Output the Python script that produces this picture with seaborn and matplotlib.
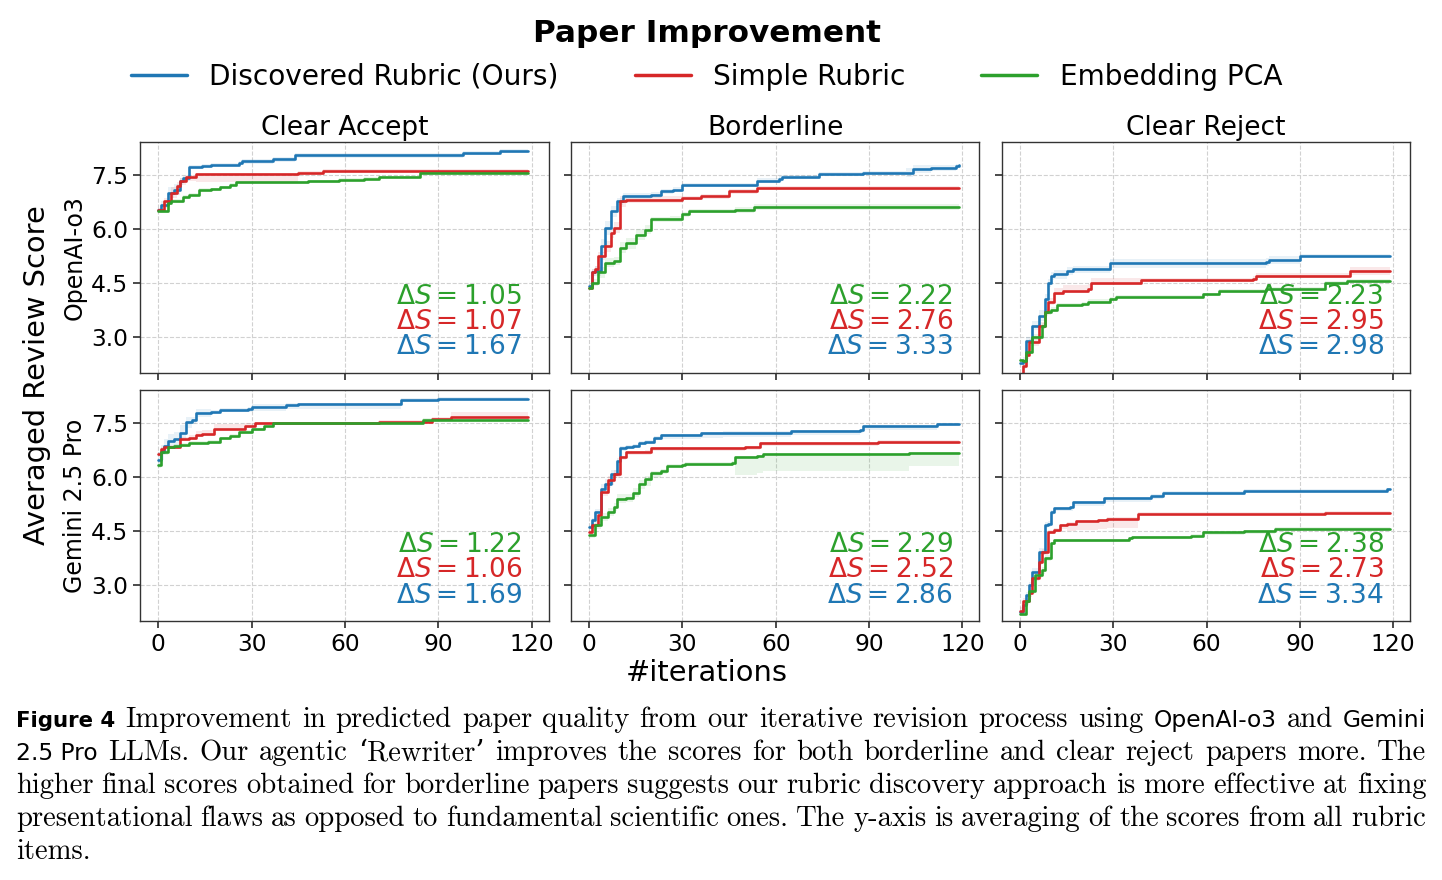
import matplotlib
matplotlib.use('Agg')
import matplotlib.pyplot as plt
import seaborn as sns
import pandas as pd

MODELS = ["OpenAI-o3", "Gemini 2.5 Pro"]
CATEGORIES = ["Clear Accept", "Borderline", "Clear Reject"]
METHODS = ["Discovered Rubric (Ours)", "Simple Rubric", "Embedding PCA"]
COLORS = ["#1f77b4", "#d62728", "#2ca02c"]
ITER_TICKS = [0, 30, 60, 90, 120]
SCORE_TICKS = [3.0, 4.5, 6.0, 7.5]

# change points of each curve: (iteration, score, band below, band above)
o3_accept_ours = [(0, 6.52, .05, .05), (1, 6.67, .1, .1), (3, 7.0, .15, .15), (5, 7.09, .15, .15),
                  (7, 7.32, .1, .1), (8, 7.4, .08, .08), (10, 7.71, .05, .05), (14, 7.75, .04, .04),
                  (17, 7.78, .04, .04), (26, 7.82, .05, .05), (27, 7.87, .06, .06), (37, 7.93, .07, .07),
                  (44, 8.05, .08, .06), (98, 8.1, .06, .06), (110, 8.16, .06, .06), (119, 8.16, .06, .06)]
o3_accept_simple = [(0, 6.52, .05, .05), (2, 6.76, .1, .1), (4, 7.0, .15, .15), (6, 7.18, .12, .12),
                    (7, 7.32, .1, .1), (9, 7.44, .1, .05), (12, 7.52, .22, .04), (45, 7.56, .05, .04),
                    (53, 7.61, .04, .04), (119, 7.61, .04, .04)]
o3_accept_pca = [(0, 6.49, .04, .04), (3, 6.72, .05, .05), (4, 6.78, .05, .05), (8, 6.88, .05, .05),
                 (10, 6.95, .05, .05), (13, 7.09, .04, .04), (17, 7.1, .04, .04), (20, 7.15, .04, .04),
                 (23, 7.22, .04, .04), (25, 7.29, .04, .04), (48, 7.32, .04, .04), (58, 7.36, .04, .04),
                 (66, 7.39, .04, .04), (71, 7.44, .04, .04), (84, 7.56, .04, .04), (119, 7.56, .04, .04)]

o3_border_ours = [(0, 4.42, .05, .05), (1, 4.79, .1, .1), (2, 4.83, .15, .15), (4, 5.52, .2, .2),
                  (5, 6.03, .2, .2), (7, 6.49, .15, .15), (9, 6.76, .1, .1), (11, 6.92, .08, .08),
                  (20, 6.95, .08, .08), (23, 7.04, .08, .08), (27, 7.09, .08, .08), (30, 7.22, .06, .06),
                  (54, 7.34, .08, .08), (61, 7.38, .08, .08), (62, 7.44, .06, .06), (74, 7.52, .05, .05),
                  (88, 7.55, .05, .05), (102, 7.56, .12, .12), (104, 7.66, .12, .12), (110, 7.68, .08, .08),
                  (118, 7.75, .05, .05), (119, 7.76, .05, .05)]
o3_border_simple = [(0, 4.37, .05, .05), (1, 4.79, .1, .1), (2, 4.88, .1, .1), (3, 5.25, .12, .12),
                    (5, 5.52, .15, .15), (7, 5.89, .15, .15), (8, 6.03, .15, .15), (10, 6.76, .15, .15),
                    (12, 6.81, .1, .1), (30, 6.86, .06, .06), (36, 6.9, .06, .06), (45, 7.04, .06, .06),
                    (54, 7.13, .06, .06), (119, 7.13, .06, .06)]
o3_border_pca = [(0, 4.37, .05, .05), (1, 4.5, .1, .1), (3, 4.79, .15, .15), (5, 5.06, .12, .12),
                 (8, 5.11, .12, .12), (10, 5.48, .15, .15), (12, 5.6, .15, .15), (15, 5.84, .15, .15),
                 (18, 5.98, .12, .12), (20, 6.26, .08, .08), (26, 6.28, .08, .08), (30, 6.4, .06, .06),
                 (32, 6.49, .06, .06), (47, 6.53, .08, .08), (53, 6.61, .08, .08), (119, 6.6, .08, .08)]

o3_reject_ours = [(0, 2.28, .05, .05), (1, 2.34, .1, .1), (2, 2.89, .1, .1), (4, 3.31, .12, .12),
                  (6, 3.59, .15, .15), (8, 4.05, .15, .15), (9, 4.5, .12, .12), (10, 4.69, .12, .12),
                  (11, 4.74, .12, .12), (15, 4.83, .12, .12), (17, 4.88, .1, .1), (29, 5.04, .12, .12),
                  (79, 5.08, .12, .12), (80, 5.14, .12, .12), (90, 5.25, .04, .04), (119, 5.25, .04, .04)]
o3_reject_simple = [(0, 1.88, .1, .1), (1, 2.2, .1, .1), (2, 2.49, .1, .1), (3, 2.85, .1, .1),
                    (6, 3.31, .1, .1), (8, 3.68, .1, .1), (9, 3.96, .08, .12), (11, 4.22, .05, .15),
                    (14, 4.28, .05, .15), (22, 4.33, .05, .15), (23, 4.49, .05, .15), (39, 4.58, .05, .06),
                    (75, 4.62, .05, .06), (76, 4.69, .06, .08), (106, 4.83, .12, .12), (119, 4.83, .12, .12)]
o3_reject_pca = [(0, 2.35, .05, .05), (1, 2.32, .05, .05), (2, 2.58, .06, .06), (4, 3.0, .08, .08),
                 (7, 3.31, .08, .08), (8, 3.68, .06, .06), (10, 3.76, .06, .06), (12, 3.88, .06, .06),
                 (20, 3.91, .06, .06), (22, 3.98, .06, .06), (29, 4.05, .05, .05), (31, 4.12, .05, .05),
                 (59, 4.18, .05, .05), (64, 4.28, .05, .05), (79, 4.33, .05, .05), (98, 4.49, .05, .05),
                 (105, 4.56, .05, .05), (119, 4.56, .05, .05)]

gem_accept_ours = [(0, 6.49, .2, .2), (1, 6.69, .2, .2), (2, 6.87, .2, .2), (3, 7.01, .2, .2),
                   (5, 7.06, .2, .2), (7, 7.24, .2, .2), (9, 7.52, .15, .15), (11, 7.58, .1, .1),
                   (12, 7.78, .1, .1), (17, 7.81, .06, .06), (20, 7.87, .06, .06), (29, 7.9, .08, .06),
                   (30, 7.96, .12, .06), (41, 8.0, .12, .05), (45, 8.02, .12, .05), (78, 8.14, .05, .05),
                   (90, 8.18, .05, .05), (119, 8.18, .05, .05)]
gem_accept_simple = [(0, 6.64, .05, .05), (1, 6.78, .06, .06), (2, 6.83, .06, .06), (7, 7.06, .06, .06),
                     (10, 7.1, .06, .06), (12, 7.17, .06, .1), (14, 7.2, .05, .12), (18, 7.35, .05, .12),
                     (28, 7.41, .05, .1), (31, 7.5, .04, .04), (71, 7.54, .04, .04), (88, 7.61, .04, .06),
                     (94, 7.68, .06, .12), (119, 7.68, .06, .12)]
gem_accept_pca = [(0, 6.34, .08, .08), (1, 6.69, .06, .06), (3, 6.83, .05, .05), (5, 6.87, .05, .05),
                  (7, 6.89, .05, .05), (10, 6.95, .05, .05), (16, 6.97, .05, .05), (20, 7.08, .05, .05),
                  (23, 7.15, .05, .05), (26, 7.26, .05, .05), (30, 7.33, .04, .04), (34, 7.43, .04, .04),
                  (37, 7.5, .04, .04), (85, 7.59, .04, .04), (98, 7.6, .05, .05), (119, 7.6, .05, .05)]

gem_border_ours = [(0, 4.62, .05, .05), (1, 4.8, .08, .08), (2, 5.03, .1, .1), (4, 5.68, .12, .12),
                   (5, 5.82, .12, .12), (7, 6.09, .1, .1), (9, 6.46, .08, .08), (10, 6.8, .06, .06),
                   (12, 6.83, .06, .06), (14, 6.87, .06, .06), (16, 6.95, .05, .05), (18, 6.97, .05, .05),
                   (21, 7.1, .08, .04), (23, 7.18, .12, .03), (36, 7.22, .12, .03), (43, 7.24, .12, .03),
                   (65, 7.27, .1, .03), (87, 7.32, .1, .03), (88, 7.43, .12, .03), (112, 7.47, .05, .03),
                   (119, 7.47, .05, .03)]
gem_border_simple = [(0, 4.48, .05, .05), (1, 4.67, .06, .06), (3, 4.94, .1, .1), (4, 5.59, .12, .12),
                     (6, 5.91, .12, .12), (8, 6.09, .1, .1), (10, 6.55, .08, .05), (12, 6.69, .08, .04),
                     (18, 6.71, .08, .04), (20, 6.8, .08, .04), (50, 6.83, .08, .04), (55, 6.95, .08, .04),
                     (93, 6.98, .05, .04), (119, 6.98, .05, .04)]
gem_border_pca = [(0, 4.39, .08, .08), (2, 4.67, .12, .12), (4, 4.9, .12, .12), (6, 5.03, .12, .12),
                  (8, 5.17, .12, .12), (9, 5.4, .12, .12), (12, 5.42, .12, .12), (14, 5.57, .12, .12),
                  (16, 5.82, .15, .1), (18, 5.95, .2, .08), (20, 6.12, .15, .06), (23, 6.18, .08, .06),
                  (25, 6.32, .05, .05), (30, 6.34, .05, .05), (31, 6.37, .05, .05), (46, 6.4, .05, .05),
                  (47, 6.55, .5, .03), (54, 6.6, .48, .03), (56, 6.64, .48, .03), (103, 6.67, .35, .03),
                  (119, 6.67, .35, .03)]

gem_reject_ours = [(0, 2.27, .05, .05), (1, 2.46, .06, .06), (2, 2.73, .08, .08), (3, 3.0, .1, .1),
                   (4, 3.38, .1, .1), (6, 3.93, .1, .1), (8, 4.67, .08, .08), (9, 4.71, .08, .08),
                   (10, 5.03, .08, .05), (11, 5.14, .08, .04), (16, 5.17, .1, .04), (17, 5.31, .1, .04),
                   (27, 5.42, .1, .04), (42, 5.49, .1, .04), (46, 5.57, .05, .04), (72, 5.62, .04, .04),
                   (118, 5.66, .04, .04), (119, 5.66, .04, .04)]
gem_reject_simple = [(0, 2.29, .1, .1), (1, 2.55, .1, .1), (3, 2.78, .1, .1), (4, 3.19, .08, .08),
                     (6, 3.65, .08, .08), (7, 3.93, .08, .08), (9, 4.47, .06, .06), (11, 4.54, .06, .06),
                     (13, 4.67, .1, .04), (15, 4.71, .2, .04), (18, 4.78, .25, .04), (25, 4.8, .25, .04),
                     (28, 4.85, .25, .04), (38, 4.99, .05, .04), (98, 5.02, .04, .04), (119, 5.02, .04, .04)]
gem_reject_pca = [(0, 2.2, .05, .05), (2, 2.55, .06, .06), (3, 2.83, .08, .08), (5, 3.29, .1, .1),
                  (7, 3.42, .1, .1), (8, 3.75, .08, .08), (10, 4.16, .05, .05), (11, 4.25, .04, .04),
                  (35, 4.3, .04, .04), (36, 4.33, .04, .04), (55, 4.37, .04, .04), (59, 4.48, .08, .04),
                  (72, 4.5, .08, .04), (82, 4.57, .04, .04), (119, 4.57, .04, .04)]

PANELS = [
    [[o3_accept_ours, o3_accept_simple, o3_accept_pca],
     [o3_border_ours, o3_border_simple, o3_border_pca],
     [o3_reject_ours, o3_reject_simple, o3_reject_pca]],
    [[gem_accept_ours, gem_accept_simple, gem_accept_pca],
     [gem_border_ours, gem_border_simple, gem_border_pca],
     [gem_reject_ours, gem_reject_simple, gem_reject_pca]],
]

# final gain per method (ours, simple, pca)
o3_delta = [[1.67, 1.07, 1.05], [3.33, 2.76, 2.22], [2.98, 2.95, 2.23]]
gem_delta = [[1.69, 1.06, 1.22], [2.86, 2.52, 2.29], [3.34, 2.73, 2.38]]
DELTAS = [o3_delta, gem_delta]

CAPTION = [
    [("Figure 4", "bold"), ("Improvement in predicted paper quality from our iterative revision process using", "rm"),
     ("OpenAI-o3", "tt"), ("and", "rm"), ("Gemini", "tt")],
    [("2.5 Pro", "tt"), ("LLMs. Our agentic \u2018Rewriter\u2019 improves the scores for both borderline and clear reject papers more. The", "rm")],
    [("higher final scores obtained for borderline papers suggests our rubric discovery approach is more effective at fixing", "rm")],
    [("presentational flaws as opposed to fundamental scientific ones. The y-axis is averaging of the scores from all rubric", "rm")],
    [("items.", "rm")],
]

sns.set_theme(style="ticks")
plt.rcParams['font.family'] = ['DejaVu Sans']
plt.rcParams.update({"text.color": "black", "axes.labelcolor": "black",
                     "xtick.color": "black", "ytick.color": "black"})

W, H = 1442, 880
fig = plt.figure(figsize=(W / 100, H / 100), dpi=100)
axes = fig.subplots(2, 3, sharex=True, sharey=True)
fig.subplots_adjust(left=0.097, right=0.978, top=0.839, bottom=0.294, wspace=0.054, hspace=0.074)

for r in range(2):
    for c in range(3):
        ax = axes[r, c]
        frames = []
        for m, series in enumerate(PANELS[r][c]):
            df = pd.DataFrame(series, columns=["iteration", "score", "below", "above"])
            df["method"] = METHODS[m]
            frames.append(df)
            ax.fill_between(df["iteration"], df["score"] - df["below"], df["score"] + df["above"],
                            step="post", color=COLORS[m], alpha=0.1, linewidth=0)
        data = pd.concat(frames, ignore_index=True)
        sns.lineplot(data=data, x="iteration", y="score", hue="method", hue_order=METHODS,
                     palette=COLORS, drawstyle="steps-post", linewidth=1.9, errorbar=None,
                     estimator=None, legend=(r == 0 and c == 0), ax=ax)
        ax.grid(True, linestyle="--", color="0.82", linewidth=0.8)
        for s in ax.spines.values():
            s.set_color("0.2")
            s.set_linewidth(1.0)
        ax.set_xlabel("")
        ax.set_ylabel("")
        ax.tick_params(labelsize=16.8, length=5, color="0.2")
        d = DELTAS[r][c]
        for k, m in enumerate([2, 1, 0]):
            ax.text(0.935, 0.33 - 0.11 * k, rf"$\Delta S = {d[m]:.2f}$", color=COLORS[m],
                    fontsize=19, ha="right", va="center", transform=ax.transAxes)
        if r == 0:
            ax.set_title(CATEGORIES[c], fontsize=19, pad=5)
    axes[r, 0].set_ylabel(MODELS[r], fontsize=17, labelpad=3)

axes[0, 0].set_xticks(ITER_TICKS)
axes[0, 0].set_yticks(SCORE_TICKS)
axes[0, 0].set_ylim(2.0, 8.42)
axes[0, 0].set_xlim(-5.9, 125.5)

handles, labels = axes[0, 0].get_legend_handles_labels()
axes[0, 0].get_legend().remove()
leg = fig.legend(handles, labels, loc="upper center", bbox_to_anchor=(0.49, 0.997), ncol=3,
                 frameon=False, fontsize=20.2, title="Paper Improvement",
                 title_fontproperties={"weight": "bold", "size": 22.4},
                 handlelength=2.0, handletextpad=0.8, columnspacing=2.7, borderaxespad=0.2)
for h in leg.legend_handles:
    h.set_linewidth(2.5)

fig.text(0.49, 0.235, "#iterations", fontsize=20.8, ha="center", va="center")
fig.text(0.026, 0.574, "Averaged Review Score", fontsize=20.8, rotation=90, ha="center", va="center")

# caption, justified word by word
fonts = {
    "bold": dict(family=["DejaVu Sans"], weight="bold", fontsize=15.3),
    "rm": dict(family=["cmr10", "DejaVu Serif"], fontsize=20.6),
    "tt": dict(family=["DejaVu Sans"], fontsize=16.8),
}
renderer = fig.canvas.get_renderer()
left_px, right_px = 16, 1426
baselines = [727, 760, 793, 826, 859]
for i, line in enumerate(CAPTION):
    words = []
    for txt, style in line:
        if style == "rm":
            words += [(w, style) for w in txt.split()]
        else:
            words.append((txt, style))
    arts = [fig.text(0, 1 - baselines[i] / H, w, va="baseline", ha="left", **fonts[s]) for w, s in words]
    widths = [a.get_window_extent(renderer).width for a in arts]
    if i < len(CAPTION) - 1 and len(arts) > 1:
        gap = (right_px - left_px - sum(widths)) / (len(arts) - 1)
    else:
        gap = 8
    x = left_px
    for a, w in zip(arts, widths):
        a.set_x(x / W)
        x += w + gap

fig.savefig("out.png", dpi=100)
